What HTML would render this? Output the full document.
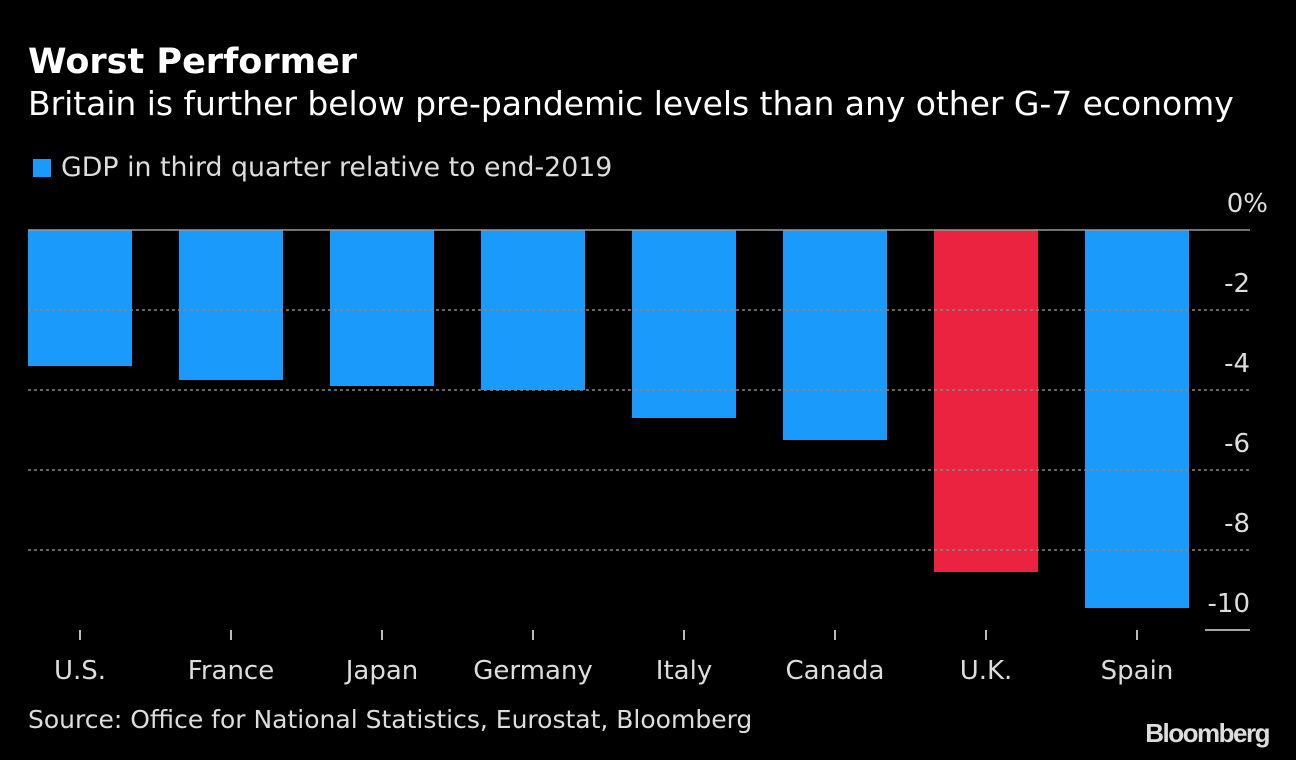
<!DOCTYPE html>
<html><head><meta charset="utf-8"><style>
body{margin:0;background:#000;width:1296px;height:760px;overflow:hidden;font-family:"DejaVu Sans","Liberation Sans",sans-serif;color:#fff}
.t{position:absolute;white-space:nowrap}
</style></head><body>
<div class="t" style="left:28px;top:42px;font-size:35px;font-weight:bold">Worst Performer</div>
<div class="t" style="left:28px;top:84px;font-size:33px;letter-spacing:-0.05px">Britain is further below pre-pandemic levels than any other G-7 economy</div>
<div class="t" style="left:33px;top:152px;font-size:26.8px;color:#ddd"><span style="display:inline-block;width:18px;height:18px;background:#1a9bfc;margin-right:10px;vertical-align:-1px"></span>GDP in third quarter relative to end-2019</div>
<svg id="c" width="1296" height="760" style="position:absolute;left:0;top:0"></svg>
<div class="t" style="left:28px;top:705px;font-size:25px;color:#ddd">Source: Office for National Statistics, Eurostat, Bloomberg</div>
<div class="t" style="right:27px;top:718px;font-size:26px;font-weight:bold;color:#ddd;letter-spacing:-1.5px;font-family:'Liberation Sans',sans-serif">Bloomberg</div>
<script>
const categories=["U.S.","France","Japan","Germany","Italy","Canada","U.K.","Spain"];
const values=[-3.4,-3.75,-3.9,-4.0,-4.7,-5.25,-8.55,-9.45];
const highlight=["U.K."];
const yTicks=[0,-2,-4,-6,-8,-10];
const yTickLabels=["0%","-2","-4","-6","-8","-10"];
const svg=document.getElementById('c');const NS='http://www.w3.org/2000/svg';
const y=v=>230-v*40;const x=i=>28+i*151;const bw=104;
function mk(t,a){const e=document.createElementNS(NS,t);for(const k in a)e.setAttribute(k,a[k]);svg.appendChild(e);return e;}
categories.forEach((c,i)=>{
 const v=values[i];
 const r=mk('rect',{x:x(i),y:y(0),width:bw,height:y(v)-y(0),fill:highlight.includes(c)?'#ec2340':'#1a9bfc'});
 
 
 const cx=x(i)+bw/2;
 const tk=mk('line',{x1:cx,x2:cx,y1:630,y2:640,stroke:'#bbb','stroke-width':2});
 
 
 const t=mk('text',{x:cx,y:679,'text-anchor':'middle',fill:'#ddd','font-size':26,'font-family':'DejaVu Sans'});
 t.textContent=c;
 
 
});
yTicks.forEach((v,i)=>{
 if(v!==0&&v!==-10){const l=mk('line',{x1:28,x2:1250,y1:y(v),y2:y(v),stroke:'#888','stroke-dasharray':'3,3','stroke-width':1.5});
 
 }
 const tx=mk('text',{x:v===0?1268:1250,y:y(v)-18,'text-anchor':'end',fill:'#ddd','font-size':26,'font-family':'DejaVu Sans'});
 tx.textContent=yTickLabels[i];
 
 
});
const z=mk('line',{x1:28,x2:1250,y1:y(0),y2:y(0),stroke:'#999','stroke-width':1.5});


const u=mk('line',{x1:1205,x2:1250,y1:y(-10),y2:y(-10),stroke:'#ddd','stroke-width':1.5});


</script>
</body></html>
